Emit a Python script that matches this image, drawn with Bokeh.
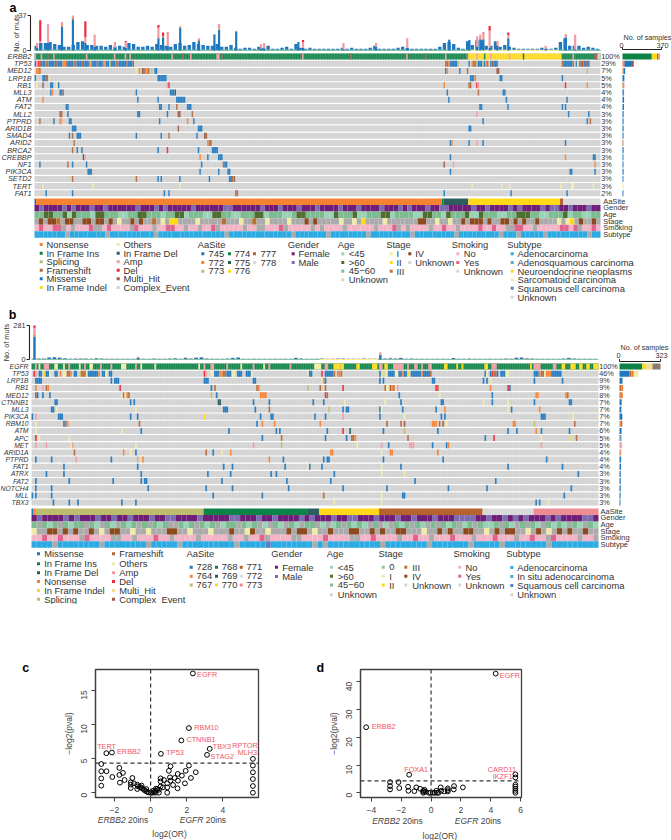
from math import pi
from bokeh.plotting import figure
from bokeh.models import Range1d, FixedTicker, Span
from bokeh.layouts import column, row
from bokeh.core.properties import value
from bokeh.embed import file_html
from bokeh.resources import INLINE

FONT = "Liberation Sans"
TXT = "#333333"
RED = "#F0566A"

C = dict(M="#1F78BE", I="#0E8347", X="#2B5E5C", O="#F58233", F="#B5683A", S="#BDBB6E", N="#FFD919",
         T="#F0EBA5", A="#F29AA3", D="#EE2B3E", H="#9B5B48", G="#CFCFCF", B="#F2DE8E")
AA = dict(a="#1F78BE", b="#F58233", c="#BDBB6E", d="#0E8347", e="#2B5E5C", f="#FFD919", g="#B5622E",
          h="#D9D9D9", i="#EE8C94")
ANN = dict(female="#6E1E78", male="#7E6BAF", young="#9AD3B6", old="#4F6E30", mid="#7DBB90",
           unk="#ABABAB", s0="#8FC98F", s1="#F0EBA5", s2="#FFD919", s3="#B87333", s4="#8C4A1E",
           no="#F2B4C6", yes="#E0648E", ad="#2BABE2", ads="#5BA9D0", neu="#FFD919", sar="#F0EBA5",
           sq="#5B7FC4", lg="#D6D6D6", ins="#5BA9D0")

# ---------------- panel a data ----------------
a_genes = ["ERBB2","TP53","MED12","LRP1B","RB1","MLL3","ATM","FAT2","MLL2","PTPRD","ARID1B","SMAD4","ARID2",
           "BRCA2","CREBBP","NF1","PIK3CA","SETD2","TERT","FAT1"]
a_pcts = ["100%","29%","7%","5%","5%","4%","4%","4%","3%","3%","3%","3%","3%","3%","3%","3%","3%","3%","3%","2%"]
a_n = 364
a_ERBB2 = [(0,278,"I"),(278,1,"F"),(279,60,"N"),(339,25,"I"),(0,1,"A"),(4,1,"A"),(8,1,"H"),(12,1,"A"),(33,1,"A"),
           (51,1,"A"),(58,1,"A"),(61,1,"A"),(88,1,"A"),(95,1,"H"),(100,1,"A"),(117,2,"A"),(120,1,"H"),(172,1,"A"),
           (203,1,"H"),(239,1,"A"),(251,1,"H"),(264,1,"A"),(284,1,"A"),(289,1,"I"),(293,1,"A"),(305,1,"A"),
           (314,1,"X"),(346,1,"A"),(360,2,"H"),(362,2,"G")]
a_TP53 = [(0,1,"M"),(1,1,"A"),(2,1,"D"),(3,2,"H"),(5,2,"M"),(7,2,"F"),(9,4,"M"),(13,2,"H"),(15,3,"M"),(18,2,"O"),
          (20,1,"F"),(21,4,"M"),(25,2,"F"),(27,3,"M"),(30,2,"H"),(32,3,"M"),(35,2,"O"),(37,3,"M"),(40,1,"F"),
          (41,3,"M"),(44,2,"O"),(46,2,"M"),(48,1,"S"),(49,3,"M"),(52,2,"F"),(54,5,"M"),(59,1,"H"),(60,3,"M"),
          (63,1,"H"),(264,2,"F"),(266,1,"O"),(267,5,"M"),(272,1,"S"),(279,1,"M"),(281,1,"O"),(282,2,"F"),
          (284,1,"S"),(285,3,"M"),(288,1,"S"),(289,1,"M"),(290,1,"O"),(291,1,"F"),(293,1,"M"),(294,1,"H"),
          (295,3,"M"),(339,1,"F"),(340,6,"M"),(346,1,"F"),(348,1,"M"),(349,1,"T"),(350,1,"F"),(351,2,"H"),
          (353,1,"M"),(354,2,"H"),(356,1,"M")]
a_MED12 = [(1,2,"O"),(3,1,"F"),(65,1,"T"),(67,1,"O"),(69,2,"H"),(71,2,"O"),(73,1,"F"),(75,1,"S"),(77,2,"M"),
           (264,1,"M"),(265,1,"O"),(273,1,"M"),(278,1,"F"),(297,2,"H"),(355,1,"S")]
a_LRP1B = [(0,1,"M"),(5,2,"M"),(7,1,"H"),(8,1,"F"),(9,1,"T"),(79,6,"M"),(280,2,"M"),(282,1,"F"),(283,1,"O"),
           (299,2,"M"),(339,1,"M")]
a_RB1 = [(1,1,"T"),(5,1,"H"),(10,2,"M"),(14,1,"T"),(15,1,"M"),(85,1,"A"),(86,1,"D"),(263,1,"O"),(279,2,"F"),
         (284,1,"D"),(285,1,"A"),(341,1,"D"),(355,1,"O")]
a_MLL3 = [(10,1,"M"),(11,1,"O"),(16,2,"M"),(18,1,"F"),(65,1,"M"),(87,3,"M"),(90,1,"X"),(265,1,"M"),(285,1,"F"),
          (301,2,"M")]
a_ATM = [(5,1,"O"),(66,1,"M"),(79,1,"M"),(91,6,"M"),(266,1,"M"),(303,1,"M"),(342,1,"M")]
a_FAT2 = [(20,2,"M"),(80,2,"M"),(86,1,"M"),(91,1,"F"),(98,3,"M"),(286,2,"M"),(304,1,"M"),(339,1,"M"),(341,1,"M")]
a_MLL2 = [(16,1,"H"),(17,1,"F"),(21,1,"M"),(66,2,"M"),(85,1,"M"),(92,2,"H"),(101,1,"F"),(284,1,"A"),(343,1,"M"),
          (356,1,"M")]
a_PTPRD = [(3,1,"F"),(12,1,"M"),(16,1,"O"),(17,1,"A"),(22,2,"M"),(80,1,"M"),(98,1,"O"),(102,1,"M"),(288,1,"M"),
           (355,1,"M"),(357,1,"F")]
a_ARID1B = [(24,3,"M"),(92,1,"H"),(105,3,"M"),(279,2,"M")]
a_SMAD4 = [(22,1,"M"),(24,1,"F"),(27,3,"M"),(65,1,"M"),(81,1,"M"),(86,1,"F"),(104,1,"M"),(109,2,"H")]
a_ARID2 = [(25,1,"F"),(111,1,"O"),(112,2,"F"),(267,1,"M"),(268,1,"O"),(279,1,"M"),(284,1,"A"),(288,1,"M"),(341,1,"M")]
a_BRCA2 = [(24,1,"F"),(27,1,"M"),(30,1,"M"),(79,1,"M"),(85,1,"D"),(105,1,"M"),(114,4,"M")]
a_CREBBP = [(31,1,"X"),(32,1,"A"),(106,1,"O"),(111,1,"M"),(118,3,"M"),(267,1,"M"),(341,1,"O"),(359,2,"M")]
a_NF1 = [(3,1,"M"),(21,1,"F"),(24,1,"M"),(33,1,"M"),(107,1,"M"),(121,1,"F"),(122,2,"M"),(263,1,"H"),(269,1,"A"),
         (360,1,"O")]
a_PIK3CA = [(34,3,"M"),(106,1,"M"),(118,1,"M"),(124,2,"M"),(267,1,"M"),(344,2,"M"),(360,1,"M")]
a_SETD2 = [(24,1,"F"),(65,1,"F"),(79,1,"M"),(81,1,"M"),(93,1,"M"),(112,1,"M"),(125,2,"M"),(127,1,"F"),(128,1,"H")]
a_TERT = [(5,1,"T"),(37,1,"T"),(93,1,"T"),(281,1,"T"),(300,1,"T"),(305,1,"T"),(338,1,"T"),(345,2,"T"),(359,1,"T")]
a_FAT1 = [(7,1,"M"),(24,1,"M"),(83,1,"M"),(86,1,"M"),(129,1,"H"),(130,1,"F"),(263,1,"M"),(306,1,"M"),(342,1,"M")]
a_rows = [a_ERBB2,a_TP53,a_MED12,a_LRP1B,a_RB1,a_MLL3,a_ATM,a_FAT2,a_MLL2,a_PTPRD,a_ARID1B,a_SMAD4,a_ARID2,a_BRCA2,
          a_CREBBP,a_NF1,a_PIK3CA,a_SETD2,a_TERT,a_FAT1]
a_right = [[("I",278),("N",50),("H",14),("A",14)],[("O",12),("F",9),("M",60),("H",26)],[("O",13),("M",12)],[("M",18)],
           [("F",10),("O",6),("A",2)],[("M",12),("H",3)],[("M",15)],[("M",14)],[("M",11),("H",1)],[("M",10),("H",1)],
           [("M",11)],[("M",9),("H",2)],[("F",5),("O",4),("A",1)],[("M",11)],[("M",8),("H",2)],[("M",8),("F",3)],
           [("M",11)],[("M",7),("F",3)],[("T",10)],[("M",9)]]
# low bars: one value for each 3 samples
a_low = [4,7,7,8,6,5,3,3,5,8,9,5,5,4,4,3,5,3,4,3,7,6,3,3,4,3,6,5,4,3,6,7,4,5,8,6,5,4,4,6,3,3,5,2,1,2,2,1,3,2,4,1,1,2,3,1,
         6,2,1,2,1,1,1,1,1,1,2,1,2,1,1,1,2,4,1,1,1,1,2,3,2,1,1,1,1,1,1,3,7,8,6,2,1,9,5,10,10,4,4,9,3,5,3,2,1,1,1,1,1,2,
         1,1,2,8,12,4,4,4,2,3,2,1]
a_peak_s = [1,3,8,17,24,32,38,51,58,79,82,85,93,105,115,118,129,145,147,169,172,198,219,239,266,279,284,286,288,292,297,304,328,341,347]
a_peak_blue = [3,8,8,25,33,8,4,3,3,13,14,5,24,10,17,22,20,2,2,9,3,1,4,3,11,11,4,12,12,3,5,13,2,14,1]
a_peak_org = [0,0,0,2,2,0,0,0,0,1,0,0,1,1,0,0,1,0,0,0,0,0,0,0,0,0,0,1,0,0,1,0,0,0,0]
a_peak_pink = [5,2,20,3,2,6,13,6,6,10,1,13,1,2,0,6,0,5,6,0,6,7,4,10,1,0,11,4,6,18,4,3,3,2,16]
a_peak_red = [0,22,0,0,0,17,0,0,1,3,4,1,0,0,0,0,0,0,0,0,2,0,0,0,0,0,0,0,1,5,0,3,0,1,0]
a_aa = [(0,1,"a"),(1,261,"b"),(262,1,"d"),(263,16,"e"),(279,59,"f"),(338,2,"g"),(340,24,"h")]
a_gender = "fmffffmfmfffmffmffffffmfffmfmfffffmffffffmmffffffmfffmfffmfffmffffmfffmffffmfffmfmfffmffmmfffffmffmffffmfmffffmfmmffmfffmff"
a_age = "mmoommoyommmyoommmyymmoommmymmooymmmyyoommyymmmooymmmyymoommmmyyommmoyymmmooymmmmyyoommyommmoyyommmyymmooommyymmmoymmyymm"
a_stage = "u4u443u44uu44u44u4u1uu4u4uu3u1u22uuuu1uuuuu3uuu1uu3uu1uuuu1uuu4u4uuuuu1uu1u2uuuu1uuuuuuu44uu1uu1uu4u444u4uu44u4u4uu4uuuu1u12u4uu4u"
a_smoke = "nynnyyununnnyuunynnnnuynnnunnyynnunnunnyunnnnnunnuunnnyunnnnnununnnnunnnnnnunnnyununnnnunnynnunnnnynnynnuuyynnunnnnnyynyunnyn"
a_sub = "aaaaaaauaaaaaaaauaaaaaaaaaauaaaaaaaaaaaaaaauaaaaaaaaaaaaaauaaaaaaauaaaaaaaauaaaaaaaaauaaaaaaaaauaaaaaaaaauaaauaaaaauaaaaaaaaauaa"

# ---------------- panel b data ----------------
b_genes = ["EGFR","TP53","LRP1B","RB1","MED12","CTNNB1","MLL3","PIK3CA","RBM10","ATM","APC","MET","ARID1A","PTPRD","FAT1",
           "ATRX","FAT2","NOTCH4","MLL","TBX3"]
b_pcts = ["100%","46%","9%","9%","8%","7%","7%","7%","7%","6%","5%","5%","4%","4%","4%","3%","3%","3%","3%","3%"]
b_n = 323
b_EGFR = [(0,323,"I"),(2,1,"A"),(7,3,"A"),(21,1,"A"),(30,1,"A"),(39,1,"A"),(45,1,"A"),(59,1,"A"),(98,1,"A"),(102,2,"A"),
          (111,1,"A"),(126,1,"A"),(135,1,"A"),(147,1,"A"),(167,2,"A"),(4,1,"T"),(13,2,"T"),(18,1,"T"),(27,1,"T"),(33,2,"T"),
          (51,3,"T"),(62,1,"T"),(70,1,"T"),(95,1,"T"),(119,1,"T"),(132,1,"T"),(161,4,"T"),(172,4,"N"),(176,2,"N"),(185,2,"N"),
          (194,3,"N"),(201,2,"N"),(235,2,"N"),(242,1,"N"),(245,1,"N"),(258,2,"N"),(284,1,"N"),(302,2,"N"),(307,3,"N"),(312,2,"N"),
          (316,2,"N"),(320,3,"N"),(198,2,"A"),(206,6,"A"),(214,1,"A"),(218,2,"A"),(222,1,"A"),(226,2,"A"),(262,3,"A"),(286,4,"A"),(297,2,"A")]
b_TP53 = [(1,1,"D"),(2,1,"A"),(4,2,"M"),(7,1,"N"),(8,2,"M"),(10,1,"T"),(13,2,"M"),(16,1,"O"),(18,2,"T"),(20,2,"F"),(22,1,"O"),
          (24,2,"M"),(27,1,"N"),(28,3,"F"),(31,1,"T"),(32,6,"M"),(38,1,"O"),(40,2,"M"),(42,1,"T"),(44,2,"M"),(98,1,"D"),(99,1,"A"),
          (102,2,"T"),(104,3,"M"),(107,2,"O"),(109,2,"F"),(111,3,"M"),(114,2,"T"),(117,3,"M"),(122,3,"M"),(125,1,"T"),(157,1,"T"),
          (158,2,"M"),(165,1,"D"),(167,5,"M"),(172,1,"F"),(174,2,"O"),(176,1,"F"),(198,1,"M"),(200,1,"N"),(202,1,"T"),(203,4,"M"),
          (207,2,"T"),(209,2,"M"),(211,1,"O"),(212,2,"M"),(214,1,"N"),(216,6,"M"),(222,1,"O"),(223,4,"M"),(227,1,"F"),(258,1,"M"),
          (259,1,"T"),(261,1,"M"),(262,1,"D"),(263,2,"F"),(265,1,"M"),(267,3,"M"),(270,2,"T"),(286,3,"M"),(289,1,"O"),(290,2,"F"),
          (292,1,"T"),(293,3,"O"),(296,6,"M")]
b_LRP1B = [(2,4,"M"),(45,1,"M"),(47,3,"M"),(98,3,"M"),(126,2,"M"),(165,1,"T"),(166,1,"O"),(167,1,"M"),(198,1,"M"),(200,1,"M"),
           (228,2,"M"),(257,1,"M"),(259,1,"M"),(261,1,"T"),(286,1,"M"),(302,1,"M")]
b_RB1 = [(2,1,"O"),(6,1,"A"),(8,1,"F"),(9,1,"O"),(50,1,"D"),(102,1,"M"),(104,1,"F"),(128,1,"F"),(129,1,"O"),(157,1,"S"),(164,1,"F"),
         (167,1,"F"),(177,1,"D"),(201,1,"F"),(202,2,"T"),(204,1,"H"),(205,1,"O"),(206,1,"F"),(207,1,"T"),(208,1,"A"),(230,1,"D"),(231,1,"F"),
         (261,1,"O"),(271,1,"D"),(272,1,"M")]
b_MED12 = [(2,1,"H"),(3,1,"M"),(6,1,"M"),(10,1,"M"),(51,1,"T"),(52,1,"F"),(53,1,"T"),(54,1,"O"),(55,1,"F"),(102,1,"S"),(105,1,"M"),(130,4,"O"),
           (167,1,"D"),(168,1,"F"),(209,1,"M"),(232,1,"T"),(262,1,"M"),(287,2,"O"),(304,1,"O"),(305,1,"F")]
b_CTNNB1 = [(13,2,"M"),(56,1,"M"),(58,1,"M"),(106,2,"X"),(126,1,"M"),(135,1,"M"),(160,1,"M"),(166,1,"M"),(178,1,"T"),(201,1,"T"),(210,1,"M"),
            (233,2,"M"),(257,1,"T"),(262,1,"M"),(271,1,"T"),(286,1,"M"),(306,2,"M")]
b_MLL3 = [(11,2,"M"),(14,1,"T"),(59,1,"T"),(109,3,"M"),(127,1,"M"),(135,1,"F"),(169,1,"S"),(177,1,"M"),(179,2,"M"),(198,1,"M"),(199,1,"T"),
          (211,1,"M"),(230,1,"M"),(235,1,"O"),(271,1,"T"),(273,1,"M"),(289,1,"O")]
b_PIK3CA = [(0,1,"M"),(2,1,"A"),(15,3,"M"),(56,1,"M"),(60,1,"M"),(98,1,"N"),(130,1,"M"),(136,2,"M"),(161,1,"M"),(167,1,"M"),(177,1,"A"),(198,1,"M"),
            (212,1,"T"),(233,1,"M"),(235,1,"M"),(290,3,"M"),(308,1,"T")]
b_RBM10 = [(2,1,"T"),(18,1,"M"),(19,1,"F"),(20,1,"O"),(61,1,"F"),(128,1,"M"),(131,1,"O"),(138,1,"O"),(164,1,"O"),(202,1,"F"),(210,1,"F"),(212,1,"H"),
           (228,2,"O"),(230,1,"O"),(232,1,"F"),(234,1,"H"),(236,1,"T"),(274,2,"O"),(286,1,"S"),(309,1,"F")]
b_ATM = [(2,1,"T"),(51,1,"T"),(62,1,"M"),(112,1,"M"),(139,1,"M"),(141,1,"M"),(168,1,"M"),(177,1,"D"),(181,1,"X"),(200,1,"M"),(212,1,"S"),(231,1,"M"),
         (271,1,"M"),(276,1,"M"),(287,1,"O"),(290,1,"M"),(306,1,"M")]
b_APC = [(2,1,"D"),(4,1,"T"),(21,1,"T"),(131,1,"M"),(142,1,"F"),(167,1,"M"),(179,1,"M"),(182,2,"F"),(184,1,"O"),(214,1,"F"),(258,1,"M"),(263,1,"D"),
         (290,1,"T"),(307,1,"N"),(310,1,"F")]
b_MET = [(2,1,"A"),(8,1,"A"),(22,1,"T"),(23,1,"A"),(59,1,"T"),(126,1,"A"),(142,1,"S"),(185,1,"T"),(199,1,"A"),(203,1,"M"),(215,3,"A"),(228,1,"M"),
         (236,1,"M"),(237,1,"O"),(290,1,"A")]
b_ARID1A = [(24,1,"F"),(52,1,"O"),(56,1,"T"),(59,1,"M"),(99,1,"F"),(103,1,"M"),(108,1,"T"),(113,1,"O"),(170,2,"O"),(199,1,"T"),(204,2,"O"),(231,1,"O")]
b_PTPRD = [(2,1,"M"),(11,1,"M"),(25,1,"A"),(45,1,"M"),(60,1,"S"),(63,1,"O"),(135,1,"O"),(143,1,"M"),(166,1,"M"),(168,2,"M"),(200,1,"M"),(234,1,"M"),(293,1,"M")]
b_FAT1 = [(18,1,"M"),(60,1,"M"),(109,1,"M"),(114,1,"M"),(144,1,"M"),(157,1,"T"),(158,1,"M"),(165,1,"M"),(199,1,"T"),(210,1,"M"),(271,1,"M"),(302,1,"M")]
b_ATRX = [(8,1,"M"),(18,1,"M"),(62,1,"M"),(100,1,"M"),(113,1,"M"),(136,1,"M"),(139,1,"M"),(172,1,"M"),(199,1,"T"),(212,1,"T"),(311,1,"M")]
b_FAT2 = [(2,1,"M"),(21,1,"M"),(46,1,"M"),(62,1,"M"),(64,2,"M"),(108,1,"M"),(145,1,"M"),(170,1,"M"),(218,1,"M"),(264,1,"M")]
b_NOTCH4 = [(2,1,"M"),(11,1,"M"),(66,1,"M"),(99,1,"M"),(114,1,"M"),(146,1,"M"),(177,1,"M"),(202,1,"M"),(237,1,"M"),(259,1,"M"),(307,1,"M")]
b_MLL = [(0,1,"M"),(2,1,"M"),(11,1,"M"),(103,1,"M"),(131,1,"M"),(166,1,"F"),(199,1,"T"),(211,2,"M"),(303,1,"M")]
b_TBX3 = [(12,1,"M"),(21,1,"M"),(26,1,"M"),(51,1,"M"),(59,1,"M"),(172,1,"T"),(199,1,"T"),(287,1,"M"),(289,1,"M"),(294,1,"T")]
b_rows = [b_EGFR,b_TP53,b_LRP1B,b_RB1,b_MED12,b_CTNNB1,b_MLL3,b_PIK3CA,b_RBM10,b_ATM,b_APC,b_MET,b_ARID1A,b_PTPRD,b_FAT1,b_ATRX,b_FAT2,b_NOTCH4,b_MLL,b_TBX3]
b_right = [[("I",180),("N",32),("B",48),("H2",63)],[("M",77),("F",16),("O",20),("T",35)],[("M",25),("T",3)],[("F",16),("O",13)],[("F",10),("O",16)],
           [("M",18),("T",4)],[("M",16),("T",6)],[("M",22)],[("O",10),("F",12)],[("M",16),("O",3)],[("M",10),("T",4),("F",3)],[("A",12),("M",3)],
           [("O",9),("F",4)],[("M",13)],[("M",12)],[("M",10)],[("M",10)],[("M",10)],[("M",9)],[("M",8),("T",1)]]
b_low = [3,4,4,12,14,10,6,3,4,4,5,3,6,4,3,3,3,2,3,2,4,3,2,5,3,3,4,6,3,8,4,10,14,5,3,3,2,4,8,12,3,2,3,2,2,2,3,2,3,2,8,4,2,2,3,4,3,3,
         5,4,3,3,2,4,2,3,3,4,6,5,8,3,4,3,2,3,2,2,3,2,8,3,2,4,3,3,2,3,2,3,5,3,10,12,6,4,3,2,3,2,2,4,8,5,3,3,2,2]
b_low_pink = [1,1,2,3,1,2,1,1,3,2,1,1,1,2,1,1,1,1,1,1,2,1,1,1,1,1,2,1,1,5,2,4,3,1,1,1,1,1,2,1,1,1,1,1,1,1,1,1,2,1,3,1,1,1,1,1,1,1,
              2,1,1,1,1,1,2,1,1,3,4,1,2,1,1,1,1,1,1,2,1,1,1,2,1,1,1,1,1,1,1,1,1,3,2,3,2,1,1,1,1,1,1,1,2,2,1,1,1,1]
b_peak_s = [1,60,198]
b_peak_blue = [190,14,38]
b_peak_org = [12,2,3]
b_peak_pink = [60,8,14]
b_peak_red = [18,0,2]
b_aa = [(0,1,"a"),(1,1,"b"),(2,96,"c"),(98,59,"d"),(157,7,"e"),(164,34,"f"),(198,59,"g"),(257,29,"h"),(286,37,"i")]
b_gender = "fmffffmfmfffmffmffmfffmffmmffffmfffffmmfffmffmffffmfmfffmffmmfffmfffmffmfffmfffmmmmffmffmfmfmfffmfmffffmmf"
b_age = "mumymumymmumyumyumymumumymuumymumymuymmumymuyumyumyummuyuymumymyumuyumymumyumumymuymumyymumyumumyumymyumyumy"
b_stage = "1uu44u4u4uu4u1u44uu1uu1uuu44uu1uuu1uuu4uu14uu1uuu4u44u1uu4uuu44uu4u4uu44uuu1uu4u4uu44uu1u4u44uu1u4u1u4u4uu4uu"
b_smoke = "nnynnynnnuynnnnuunnunnnynnunnnnunnnnnunnunnyunnnnuunnnnynnnnuunnynnnnunnynnunnnynnnunnnynnnunnynnuynnnnunnu"
b_sub = "aaaauaaaaaaaauaaaaaaaauaaaaauaaaaaaaaaauaaaaaqaaaaaaaauauaaaaaaaaaauaaaaaaaauaaaaaaauaaaaauaaaaaaaauaaaaaaaaa"

# legends
a_mut_1 = [("Nonsense","O"),("In Frame Ins","I"),("Splicing","S"),("Frameshift","F"),("Missense","M"),("In Frame Indel","N")]
a_mut_2 = [("Others","T"),("In Frame Del","X"),("Amp","A"),("Del","D"),("Multi_Hit","H"),("Complex_Event","G")]
b_mut_1 = [("Missense","M"),("In Frame Ins","I"),("In Frame Del","X"),("Nonsense","O"),("In Frame Indel","N"),("Splicing","S")]
b_mut_2 = [("Frameshift","F"),("Others","T"),("Amp","A"),("Del","D"),("Multi_Hit","B"),("Complex_Event","H")]
a_sites = [["745","772","773"],["774","775","776"],["777","778"]]
a_sites_c = [["a","b","c"],["d","e","f"],["g","h"]]
b_sites = [["728","764","767"],["768","769","770"],["771","772","773"]]
b_sites_c = [["a","b","c"],["d","e","f"],["g","h","i"]]
gender_lab = [("Female","female"),("Male","male")]
age_lab = [("<45","young"),(">60","old"),("45\u221260","mid"),("Unknown","lg")]
a_stage_1 = [("I","s1"),("II","s2"),("III","s3")]
a_stage_2 = [("IV","s4"),("Unknown","lg")]
b_stage_1 = [("0","s0"),("I","s1"),("II","s2")]
b_stage_2 = [("III","s3"),("IV","s4"),("Unknown","lg")]
smoke_lab = [("No","no"),("Yes","yes"),("Unknown","lg")]
a_sub_lab = [("Adenocarcinoma","ad"),("Adenosquamous carcinoma","ads"),("Neuroendocrine neoplasms","neu"),("Sarcomatoid carcinoma","sar"),
             ("Squamous cell carcinoma","sq"),("Unknown","lg")]
b_sub_lab = [("Adenocarcinoma","ad"),("In situ adenocarcinoma","ins"),("Squamous cell carcinoma","sq"),("Unknown","lg")]
anno_names = ["AaSite","Gender","Age","Stage","Smoking","Subtype"]

# ---------------- panels c, d data ----------------
c_x = [2.34,2.12,1.7,3.27,3.12,.57,-2.14,-2.45,5.66,5.66,5.66,5.66,5.66,5.66,-2.73,-2.73,-2.44,-2.73,-2.73,-2.12,-1.73,-1.73,-1.53,-1.7,-1.44,-1.01,
       -1.1,-1.1,-1.1,-.92,-.74,-.7,-.74,-.55,-.46,-.37,-.24,-.13,0,-.5,-.6,-.3,-.2,1.1,1.01,2.12,1.94,2.5,1.5,1.73,2.23,1.07,1.33,.55,.74,.55,1.1,1.51,.92,1.24,
       1.9,1.49,.92,.92,.68,.46,.46,.37,.28,.18,.09,.28,.15,.3,.55]
c_y = [17.45,9.46,7.65,6.42,5.54,5.69,5.88,5.78,4.95,3.97,2.99,2.0,.98,0,4.2,3.14,3.14,2.1,1.03,2.3,3.63,2.6,2.9,1.47,1.86,2.16,1.52,1.18,.69,1.37,1.18,.93,.54,.78,
       .64,.44,.54,.05,0,1.05,.85,.3,.15,3.87,3.2,3.97,3.2,3,2.75,2.5,2.16,2.25,2.16,2.1,1.86,1.67,1.76,1.76,1.37,1.13,1.37,.64,.78,0,.78,.44,0,.54,.29,.05,0,0,.3,.6,.9]
c_lab = ["EGFR","RBM10","CTNNB1","TBX3","RPTOR","MLH3","STAG2","TP53","ERBB2","TERT"]
c_lab_x = [2.57,2.42,1.98,3.44,4.52,4.82,3.32,.87,-1.86,-2.96]
c_lab_y = [17.3,9.6,7.85,6.7,6.85,5.95,5.35,5.9,6.05,6.7]
d_x = [4.33,-4.35,-1.47,5.65,5.65,5.65,5.65,5.65,5.65,5.65,-2.75,-2.75,-2.75,-2.18,-2.13,-1.54,-1.52,-1.12,-.99,-.73,-.44,-.53,-.53,-.37,-.04,.11,.35,.4,.5,.64,.68,.88,1.12,1.12,1.12,1.54,1.52,2.13,-.15,.25,-.5]
d_y = [42.9,23.6,6.5,6.63,5.54,2.9,2.2,1.45,.7,0,3.85,2.4,1.2,3.85,1.7,2.17,.72,.6,1.93,1.45,1.08,.72,0,.36,0,0,.72,0,0,1.93,.72,.48,1.57,.96,.48,2.41,1.2,1.93,0,0,.4]
d_lab = ["EGFR","ERBB2","FOXA1","CARD11","IKZF1"]
d_lab_x = [4.61,-3.98,-1.8,3.8,4.13]
d_lab_y = [42.1,24,8.3,8.3,5.8]
c_xticks = [-2,0,2,4]
c_yticks = [0,5,10,15]
d_xticks = [-4,-2,0,2,4,6]
d_yticks = [0,10,20,30,40]

W = 671


def rng(d0, p0, d1, p1, P0, P1):
    k = (d1 - d0) / (p1 - p0)
    return Range1d(start=d0 + (P0 - p0) * k, end=d0 + (P1 - p0) * k)


def txt(p, xs, ys, ts, size, color=TXT, align="left", style="normal", baseline="middle", **kw):
    return p.text(x=xs, y=ys, text=ts, text_font=value(FONT), text_font_size=f"{size}px", text_color=color, text_align=align,
                  text_baseline=baseline, text_font_style=style, **kw)


def quads(p, items, xr, yr):
    if not items:
        return
    l, r, t, b, c = zip(*items)
    p.quad(left=list(l), right=list(r), top=list(t), bottom=list(b), fill_color=list(c), line_color=None,
           x_range_name=xr, y_range_name=yr)


def legend_col(p, mx, tx, ys, labels, cmap, size=9.4):
    p.scatter(x=[mx] * len(labels), y=ys[:len(labels)], marker="square", size=3.0, line_color=None,
              fill_color=[cmap[k] for _, k in labels])
    txt(p, [tx] * len(labels), ys[:len(labels)], [t for t, _ in labels], size)


def blank(width, height):
    p = figure(width=width, height=height, x_range=Range1d(0, width), y_range=Range1d(height, 0), x_axis_location=None, y_axis_location=None,
               toolbar_location=None, output_backend="svg", min_border=0, outline_line_color=None)
    p.xgrid.visible = False
    p.ygrid.visible = False
    return p


def oncoprint(n, H, top, x0, x1, row0, pitch, genes, pcts, rows, right, aa, gender, age, stage, smoke, sub, low, low_pink, peaks,
              mut_max, rmax, rx0, rx1, mut_top, mut_zero, cfg):
    p = blank(W, H)
    p.extra_x_ranges = {"samples": rng(0, x0, n, x1, 0, W), "count": rng(0, rx0, rmax, rx1, 0, W)}
    p.extra_y_ranges = {"rows": rng(0, row0 - top, 1, row0 - top + pitch, H, 0),
                        "muts": rng(0, mut_zero - top, mut_max, mut_top - top, H, 0),
                        "anno": rng(0, cfg["anno_y"] - top, 1, cfg["anno_y"] - top + cfg["anno_h"], H, 0)}
    # oncoprint background rows and mutated cells
    ng = len(genes)
    rowh = 0.84
    quads(p, [(0, n, i, i + rowh, "#D1D1D1") for i in range(ng)], "samples", "rows")
    cells = []
    for i, segs in enumerate(rows):
        for s, w, t in segs:
            cells.append((s, s + w, i, i + rowh, C[t]))
    quads(p, cells, "samples", "rows")
    p.segment(x0=list(range(n + 1)), x1=list(range(n + 1)), y0=[0] * (n + 1), y1=[ng - 1 + rowh] * (n + 1), line_color="white",
              line_alpha=0.35, line_width=0.5, x_range_name="samples", y_range_name="rows")
    # stacked mutation bars
    bars = []
    bw = n / len(low)
    for i, v in enumerate(low):
        a, b = i * bw, (i + 0.72) * bw
        mid = (a + b) / 2
        base = "#0E8347"
        for s, w, k in aa:
            if s <= mid < s + w and k == "f":
                base = C["N"]
        bars.append((i * bw, (i + 1) * bw, 0, cfg["base"], base))
        bars.append((a, b, cfg["base"], cfg["base"] + v, C["M"]))
        if low_pink:
            bars.append((a, b, cfg["base"] + v, cfg["base"] + v + low_pink[i], C["A"]))
    ps, pb, po, pp, pr = peaks
    for s, b_, o, k, r in zip(ps, pb, po, pp, pr):
        y = 0
        for v, col in ((b_, C["M"]), (o, C["O"]), (k, C["A"]), (r, C["D"])):
            bars.append((s, s + 1.4, y, y + v, col))
            y += v
    quads(p, bars, "samples", "muts")
    # mutation axis
    ax = cfg["mut_ax"]
    p.segment(x0=[ax, ax, ax - 3], x1=[ax, ax - 3, ax], y0=[mut_top - top, mut_top - top, mut_zero - top], y1=[mut_zero - top, mut_top - top, mut_zero - top],
              line_color="#222222", line_width=1.1)
    txt(p, [ax - 4, ax - 4], [mut_top - top, mut_zero - top], [str(mut_max), "0"], 7.3, align="right")
    txt(p, [cfg["mut_lab_x"]], [(mut_top + mut_zero) / 2 - top], ["No. of muts"], 7.3, align="center", angle=pi / 2)
    # gene labels and percentages
    yc = [row0 - top + pitch * (i + rowh / 2) for i in range(ng)]
    txt(p, [cfg["gene_x"]] * ng, yc, genes, cfg["gene_size"], align="right", style="italic")
    txt(p, [cfg["pct_x"]] * ng, yc, pcts, 7.3)
    # right bars
    rb = []
    for i, stack in enumerate(right):
        c0 = 0
        for t, v in stack:
            col = "#8C7A6B" if t == "H2" else C[t]
            rb.append((c0, c0 + v, i, i + rowh, col))
            c0 += v
    quads(p, rb, "count", "rows")
    ry = cfg["r_axis_y"] - top
    p.segment(x0=[rx0, rx0, rx1], x1=[rx1, rx0, rx1], y0=[ry, ry, ry], y1=[ry, ry - 2.5, ry - 2.5], line_color="#222222", line_width=1)
    txt(p, [rx0 - 1, rx1 + 1], [cfg["r_tick_y"] - top] * 2, ["0", str(rmax)], 7.3, align="center")
    txt(p, [cfg["r_title_x"]], [cfg["r_title_y"] - top], ["No. of samples"], 7.2, align="left")
    # annotation rows
    an = []
    for s, w, k in aa:
        an.append((s, s + w, 0, 1, AA[k]))
    keymaps = [dict(f="female", m="male"), dict(y="young", o="old", m="mid", u="unk"),
               {"0": "s0", "1": "s1", "2": "s2", "3": "s3", "4": "s4", "u": "unk"}, dict(n="no", y="yes", u="unk"),
               dict(a="ad", u="unk", q="sq")]
    for j, (seq, km) in enumerate(zip([gender, age, stage, smoke, sub], keymaps)):
        w = n / len(seq)
        for i, ch in enumerate(seq):
            an.append((i * w, (i + 1) * w, j + 1, j + 2, ANN[km[ch]]))
    quads(p, an, "samples", "anno")
    ay = [cfg["anno_lab_y"] - top + 6.7 * j for j in range(6)]
    txt(p, [cfg["anno_x"]] * 6, ay, anno_names, 7.5)
    # panel letter
    txt(p, [cfg["letter_x"]], [cfg["letter_y"] - top], [cfg["letter"]], 12.5, color="black", style="bold", baseline="alphabetic")
    # legends
    ly = [v - top for v in cfg["rows_y"]]
    sy = [v - top for v in cfg["sub_y"]]
    mx1, tx1, mx2, tx2 = cfg["mut_x"]
    legend_col(p, mx1, tx1, ly, cfg["mut1"], C)
    legend_col(p, mx2, tx2, ly, cfg["mut2"], C)
    aat = cfg["title_y"] - top
    for name, x in cfg["titles"]:
        txt(p, [x], [aat], [name], 9.4)
    for (mx, tx), labs, cs in zip(cfg["site_x"], cfg["sites"], cfg["sites_c"]):
        legend_col(p, mx, tx, sy, list(zip(labs, cs)), AA)
    legend_col(p, cfg["gender_x"][0], cfg["gender_x"][1], [v - top for v in cfg["gender_y"]], gender_lab, ANN)
    legend_col(p, cfg["age_x"][0], cfg["age_x"][1], sy, age_lab, ANN)
    legend_col(p, cfg["st1_x"][0], cfg["st1_x"][1], sy, cfg["st1"], ANN)
    legend_col(p, cfg["st2_x"][0], cfg["st2_x"][1], sy, cfg["st2"], ANN)
    legend_col(p, cfg["smoke_x"][0], cfg["smoke_x"][1], sy, smoke_lab, ANN)
    legend_col(p, cfg["sub_x"][0], cfg["sub_x"][1], [v - top for v in cfg["subtype_y"]], cfg["sublab"], ANN)
    return p


cfg_a = dict(anno_y=198, anno_h=6.55, base=0.9, mut_ax=30, mut_lab_x=15.5, gene_x=31, gene_size=7.3, pct_x=600.7, r_axis_y=49, r_tick_y=45, r_title_x=623,
             r_title_y=37.3, anno_lab_y=200.5, anno_x=602.7, letter="a", letter_x=9, letter_y=7,
             rows_y=[244, 252.7, 261.3, 269.7, 278.3, 287], sub_y=[253.3, 262, 270.7, 279.3], gender_y=[253.3, 262], title_y=244.3,
             subtype_y=[253.3, 262, 270.7, 279.3, 287.7, 296.7], mut_x=(40.7, 46, 117.7, 123), mut1=a_mut_1, mut2=a_mut_2,
             titles=[("AaSite", 197.3), ("Gender", 287.3), ("Age", 337.3), ("Stage", 385.7), ("Smoking", 451.3), ("Subtype", 506.7)],
             site_x=[(202.3, 208), (229, 234), (254, 260)], sites=a_sites, sites_c=a_sites_c, gender_x=(292.7, 298), age_x=(342.3, 348.3),
             st1_x=(390.7, 396), st1=a_stage_1, st2_x=(409.3, 414.7), st2=a_stage_2, smoke_x=(457.3, 463.3), sub_x=(511.7, 517), sublab=a_sub_lab)
cfg_b = dict(anno_y=508, anno_h=6.55, base=4, mut_ax=29, mut_lab_x=5.5, gene_x=28, gene_size=6.8, pct_x=598.7, r_axis_y=361, r_tick_y=355, r_title_x=620,
             r_title_y=346.7, anno_lab_y=510.5, anno_x=600, letter="b", letter_x=8.3, letter_y=314.3,
             rows_y=[553.3, 563.3, 572.3, 581, 590, 598.7], sub_y=[566.7, 575.7, 584.5, 594.3], gender_y=[566.7, 576], title_y=553.3,
             subtype_y=[567, 576, 585, 594.3], mut_x=(38, 43.7, 113, 118.7), mut1=b_mut_1, mut2=b_mut_2,
             titles=[("AaSite", 186), ("Gender", 270.7), ("Age", 326.3), ("Stage", 378), ("Smoking", 453), ("Subtype", 505.7)],
             site_x=[(190.7, 196), (216, 221.3), (240.7, 246)], sites=b_sites, sites_c=b_sites_c, gender_x=(276, 281.7), age_x=(331, 337.3),
             st1_x=(382.7, 388.7), st1=b_stage_1, st2_x=(405.3, 411.7), st2=b_stage_2, smoke_x=(459.3, 465), sub_x=(511.3, 516.7), sublab=b_sub_lab)

H_A, H_B, H_C, H_S = 302, 302, 211, 25
fig_a = oncoprint(a_n, H_A, 0, 34, 600, 53, 7.2, a_genes, a_pcts, a_rows, a_right, a_aa, a_gender, a_age, a_stage, a_smoke, a_sub, a_low, None,
                  (a_peak_s, a_peak_blue, a_peak_org, a_peak_pink, a_peak_red), 37, 370, 622, 661, 15, 50, cfg_a)
fig_b = oncoprint(b_n, H_B, 302, 31, 598, 363, 7.16, b_genes, b_pcts, b_rows, b_right, b_aa, b_gender, b_age, b_stage, b_smoke, b_sub, b_low, b_low_pink,
                  (b_peak_s, b_peak_blue, b_peak_org, b_peak_pink, b_peak_red), 281, 323, 619, 660, 325, 359, cfg_b)


def volcano(xs, ys, labs, lx, ly, xr, yr, xticks, yticks, width, left, right):
    p = figure(width=width, height=H_C, x_range=Range1d(*xr), y_range=Range1d(*yr), toolbar_location=None, output_backend="svg",
               min_border_left=left, min_border_right=right, min_border_top=65, min_border_bottom=18)
    p.grid.visible = False
    p.outline_line_color = "#404040"
    p.outline_line_width = 1.3
    p.xaxis.ticker = FixedTicker(ticks=xticks)
    p.yaxis.ticker = FixedTicker(ticks=yticks)
    p.axis.major_label_text_font = FONT
    p.axis.major_label_text_font_size = "8.5px"
    p.axis.major_label_text_color = "#444444"
    p.axis.axis_line_color = "#404040"
    p.axis.axis_line_width = 1.2
    p.axis.major_tick_line_color = "#404040"
    p.axis.major_tick_out = 4
    p.axis.major_tick_in = 0
    p.axis.minor_tick_line_color = None
    p.axis.axis_label_text_font = FONT
    p.axis.axis_label_text_font_size = "8.5px"
    p.axis.axis_label_text_font_style = "normal"
    p.axis.axis_label_text_color = "#444444"
    p.xaxis.major_label_standoff = 5
    p.yaxis.axis_label = "\u2212log2(pval)"
    p.yaxis.axis_label_standoff = 2
    p.yaxis.major_label_standoff = 7
    p.yaxis.major_label_orientation = pi / 2
    p.add_layout(Span(location=4.32, dimension="width", line_color="#333333", line_dash="4 3", line_width=1.2))
    p.add_layout(Span(location=0, dimension="height", line_color="#333333", line_dash="4 3", line_width=1.2))
    p.scatter(x=xs, y=ys, marker="circle", size=4.8, fill_color=None, line_color="black", line_width=1)
    txt(p, lx, ly, labs, 7.3, color=RED)
    return p


def letter_fig(width, letter, lx):
    p = blank(width, H_C)
    txt(p, [lx], [63.3], [letter], 12.5, color="black", style="bold", baseline="alphabetic")
    return column(p, spacing=0)


fig_c = volcano(c_x, c_y, c_lab, c_lab_x, c_lab_y, (-3.05, 5.97), (-0.7, 18.03), c_xticks, c_yticks, 252, 35, 54)
fig_d = volcano(d_x, d_y, d_lab, d_lab_x, d_lab_y, (-4.73, 6.06), (-1.7, 44.4), d_xticks, d_yticks, 346, 32, 150)

strip = blank(W, H_S)
AX = "#444444"
TOP_S = 815
strip_y = 819.3 - TOP_S
txt(strip, [97.3, 371.7], [strip_y, strip_y + 1], ["ERBB2", "ERBB2"], 8.5, color=AX, style="italic")
txt(strip, [127.5, 402], [strip_y, strip_y + 1], ["20ins", "20ins"], 8.5, color=AX)
txt(strip, [179.3, 454.3], [strip_y, strip_y + 1], ["EGFR", "EGFR"], 8.5, color=AX, style="italic")
txt(strip, [205.3, 480.3], [strip_y, strip_y + 1], ["20ins", "20ins"], 8.5, color=AX)
txt(strip, [169, 439.3], [833.7 - TOP_S, 835 - TOP_S], ["log2(OR)", "log2(OR)"], 8.5, color=AX, align="center")

bottom = row(letter_fig(60, "c", 21.7), fig_c, letter_fig(13, "d", 4), fig_d, spacing=0)
p = column(fig_a, fig_b, bottom, strip, spacing=0, styles={"position": "absolute", "left": "0px", "top": "0px"})
open("out.html", "w").write(file_html(p, INLINE))
